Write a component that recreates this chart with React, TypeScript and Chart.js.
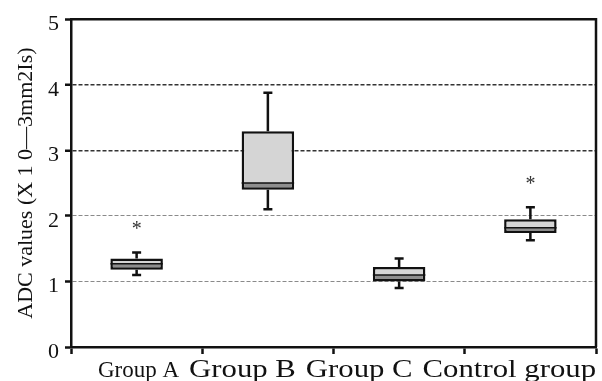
import { useEffect, useRef } from 'react';
import { Chart, registerables } from 'chart.js';

Chart.register(...registerables);

// ---- data ----
const categories = ['Group A', 'Group B', 'Group C', 'Control group'];
const whiskerMin = [1.10, 2.10, 0.90, 1.63];
const quartile1 = [1.18, 2.40, 1.00, 1.74];
const medians = [1.27, 2.50, 1.10, 1.82];
const quartile3 = [1.35, 3.29, 1.22, 1.95];
const whiskerMax = [1.44, 3.88, 1.35, 2.13];
const starMarks: (number | null)[] = [1.86, null, null, 2.54];
const yTicks = [0, 1, 2, 3, 4, 5];
const yTitle = 'ADC values (X 1 0\u20143mm2Is)';

// ---- styles ----
const SERIF = "'Liberation Serif', 'Times New Roman', serif";
const INK = '#111111';
const LIGHT_FILL = '#d5d5d5';
const DARK_FILL = '#8e8e8e';

const boxPlugin = {
  id: 'boxExtras',
  beforeDatasetsDraw(chart: any) {
    const { ctx, scales } = chart;
    const x = scales.x;
    const y = scales.y;
    ctx.save();
    ctx.strokeStyle = INK;
    ctx.lineWidth = 2.5;
    const cap = 4.5;
    categories.forEach((_, i) => {
      const cx = x.getPixelForValue(i);
      const pairs = [
        [quartile3[i], whiskerMax[i]],
        [quartile1[i], whiskerMin[i]],
      ];
      pairs.forEach(([from, to]) => {
        const p1 = y.getPixelForValue(from);
        const p2 = y.getPixelForValue(to);
        ctx.beginPath();
        ctx.moveTo(cx, p1);
        ctx.lineTo(cx, p2);
        ctx.moveTo(cx - cap, p2);
        ctx.lineTo(cx + cap, p2);
        ctx.stroke();
      });
    });
    ctx.restore();
  },
  afterDatasetsDraw(chart: any) {
    const { ctx, scales } = chart;
    const x = scales.x;
    const y = scales.y;
    // median lines
    const meta = chart.getDatasetMeta(0);
    ctx.save();
    ctx.strokeStyle = INK;
    ctx.lineWidth = 1.5;
    medians.forEach((m, i) => {
      const el = meta.data[i];
      const w = el ? el.width : 0;
      const cx = x.getPixelForValue(i);
      const py = y.getPixelForValue(m);
      ctx.beginPath();
      ctx.moveTo(cx - w / 2, py);
      ctx.lineTo(cx + w / 2, py);
      ctx.stroke();
    });
    ctx.restore();
    // significance stars
    ctx.save();
    ctx.fillStyle = '#333333';
    ctx.font = `20px ${SERIF}`;
    ctx.textAlign = 'center';
    ctx.textBaseline = 'alphabetic';
    starMarks.forEach((v, i) => {
      if (v == null) return;
      ctx.fillText('*', x.getPixelForValue(i), y.getPixelForValue(v) + 9.5);
    });
    ctx.restore();
  },
  afterDraw(chart: any) {
    const { ctx, chartArea, scales } = chart;
    const x = scales.x;
    // top and right frame
    ctx.save();
    ctx.strokeStyle = INK;
    ctx.lineWidth = 2.5;
    ctx.beginPath();
    ctx.moveTo(chartArea.left, chartArea.top);
    ctx.lineTo(chartArea.right, chartArea.top);
    ctx.lineTo(chartArea.right, chartArea.bottom);
    ctx.stroke();
    ctx.restore();

    // category labels, laid out as one line ending at the right edge
    ctx.save();
    ctx.fillStyle = INK;
    ctx.textBaseline = 'alphabetic';
    ctx.textAlign = 'left';
    const baseline = x.top + 30;
    const gap = 10;
    let cursor = x.right;
    for (let i = categories.length - 1; i >= 0; i--) {
      const first = i === 0;
      const size = first ? 23 : 25;
      const sx = first ? 1 : 1.23;
      ctx.font = `${size}px ${SERIF}`;
      const w = ctx.measureText(categories[i]).width * sx;
      const left = cursor - w;
      ctx.save();
      ctx.translate(left, baseline);
      ctx.scale(sx, 1);
      ctx.fillText(categories[i], 0, 0);
      ctx.restore();
      cursor = left - gap;
    }
    ctx.restore();
  },
};

export default function App() {
  const canvasRef = useRef<HTMLCanvasElement | null>(null);

  useEffect(() => {
    if (!canvasRef.current) return;
    const chart = new Chart(canvasRef.current, {
      type: 'bar',
      data: {
        labels: categories,
        datasets: [
          {
            label: 'lower',
            data: categories.map((_, i) => [quartile1[i], medians[i]]) as any,
            backgroundColor: DARK_FILL,
            borderColor: INK,
            borderWidth: 2.5,
            borderSkipped: 'top',
            grouped: false,
            barPercentage: 0.4,
            categoryPercentage: 1,
          },
          {
            label: 'upper',
            data: categories.map((_, i) => [medians[i], quartile3[i]]) as any,
            backgroundColor: LIGHT_FILL,
            borderColor: INK,
            borderWidth: 2.5,
            borderSkipped: 'bottom',
            grouped: false,
            barPercentage: 0.4,
            categoryPercentage: 1,
          },
        ],
      },
      options: {
        animation: false,
        responsive: false,
        devicePixelRatio: 1,
        layout: { padding: { top: 13, right: 6, left: 0, bottom: 0 } },
        plugins: {
          legend: { display: false },
          tooltip: { enabled: false },
        },
        scales: {
          x: {
            type: 'category',
            offset: true,
            ticks: { display: false },
            grid: {
              offset: true,
              drawOnChartArea: false,
              drawTicks: true,
              tickLength: 7,
              tickWidth: 2.5,
              tickColor: INK,
              color: INK,
            },
            border: { color: INK, width: 2.5 },
            afterFit: (s: any) => {
              s.height = 34;
            },
          },
          y: {
            type: 'linear',
            min: 0,
            max: 5,
            afterBuildTicks: (s: any) => {
              s.ticks = yTicks.map((v) => ({ value: v }));
            },
            ticks: {
              color: INK,
              font: { family: SERIF, size: 22 },
              padding: 6,
              labelOffset: 5,
            },
            grid: {
              color: (c: any) => {
                const v = c.tick?.value;
                if (v === 3 || v === 4) return '#333333';
                if (v === 1 || v === 2) return '#8a8a8a';
                return 'rgba(0,0,0,0)';
              },
              lineWidth: (c: any) => {
                const v = c.tick?.value;
                return v === 3 || v === 4 ? 1.5 : 1;
              },
              tickColor: INK,
              tickLength: 6,
              tickWidth: 2.5,
            },
            border: { color: INK, width: 2.5, dash: [4, 2] },
            title: {
              display: true,
              text: yTitle,
              color: INK,
              font: { family: SERIF, size: 22 },
              padding: { top: 13, bottom: 0 },
            },
            afterFit: (s: any) => {
              s.width = 71;
            },
          },
        },
      },
      plugins: [boxPlugin],
    });
    return () => chart.destroy();
  }, []);

  return (
    <div style={{ position: 'fixed', left: 0, top: 0, width: 602, height: 381, background: '#fff' }}>
      <canvas ref={canvasRef} width={602} height={381} />
    </div>
  );
}
